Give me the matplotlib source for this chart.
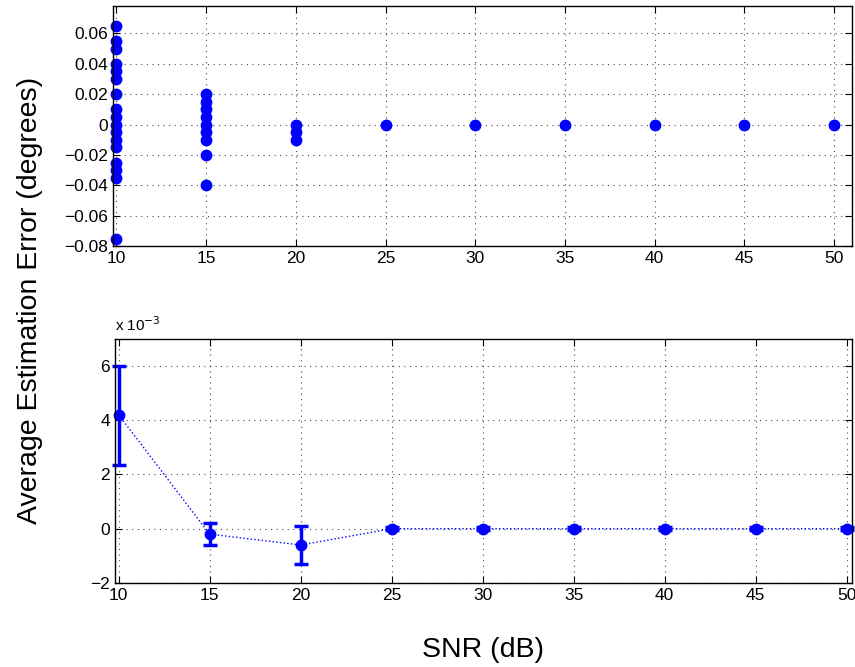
import numpy as np
import matplotlib
matplotlib.use("Agg")
import matplotlib.pyplot as plt

plt.rcParams['font.family'] = ['Liberation Sans', 'DejaVu Sans']

# top panel: individual estimation errors (degrees) per SNR
snr_levels = [10, 15, 20, 25, 30, 35, 40, 45, 50]
err_10 = [0.065, 0.055, 0.05, 0.04, 0.035, 0.03, 0.02, 0.01, 0.005, 0.0,
          -0.005, -0.01, -0.015, -0.025, -0.03, -0.035, -0.075]
err_15 = [0.02, 0.015, 0.01, 0.005, 0.0, -0.005, -0.01, -0.02, -0.04]
err_20 = [0.0, -0.005, -0.01]
err_rest = [0.0]

# bottom panel: mean error and error bar (units of 1e-3 degrees)
mean_err = [4.2, -0.2, -0.6, 0.0, 0.0, 0.0, 0.0, 0.0, 0.0]
err_lo = [1.85, 0.4, 0.7, 0.05, 0.05, 0.05, 0.05, 0.05, 0.05]
err_hi = [1.8, 0.4, 0.7, 0.05, 0.05, 0.05, 0.05, 0.05, 0.05]

fig = plt.figure(figsize=(8.55, 6.67), dpi=100)
ax1 = fig.add_axes([0.132, 0.631, 0.8645, 0.36])
ax2 = fig.add_axes([0.1345, 0.126, 0.862, 0.366])

groups = [err_10, err_15, err_20] + [err_rest] * 6
for s, g in zip(snr_levels, groups):
    ax1.plot([s] * len(g), g, 'o', color='blue', markersize=7.5, clip_on=False)
ax1.set_xlim(9.8, 51)
ax1.set_ylim(-0.08, 0.078)
ax1.set_xticks(snr_levels)
ax1.set_yticks(np.arange(-0.08, 0.061, 0.02))
ax1.set_yticklabels(['\u22120.08', '\u22120.06', '\u22120.04', '\u22120.02', '0',
                     '0.02', '0.04', '0.06'])

ax2.errorbar(snr_levels, mean_err, yerr=[err_lo, err_hi], fmt='o:', color='blue',
             markersize=7.5, elinewidth=2.5, capsize=5, capthick=2.5, lw=1,
             clip_on=False)
ax2.set_xlim(9.8, 50.3)
ax2.set_ylim(-2, 7)
ax2.set_xticks(snr_levels)
ax2.set_yticks([-2, 0, 2, 4, 6])
ax2.set_yticklabels(['\u22122', '0', '2', '4', '6'])
ax2.text(0.0, 1.02, 'x 10$^{-3}$', transform=ax2.transAxes, fontsize=11,
         ha='left', va='bottom')

for ax in (ax1, ax2):
    ax.grid(True, linestyle=(0, (1, 4)), color='black', linewidth=0.8, alpha=0.7)
    ax.tick_params(direction='in', labelsize=12.5, length=5, top=True, right=True)
    for sp in ax.spines.values():
        sp.set_linewidth(1.0)

fig.text(0.035, 0.55, 'Average Estimation Error (degrees)', rotation=90,
         ha='center', va='center', fontsize=20.5)
fig.text(0.565, 0.025, 'SNR (dB)', ha='center', va='center', fontsize=20.5)

fig.savefig('out.png', dpi=100)
